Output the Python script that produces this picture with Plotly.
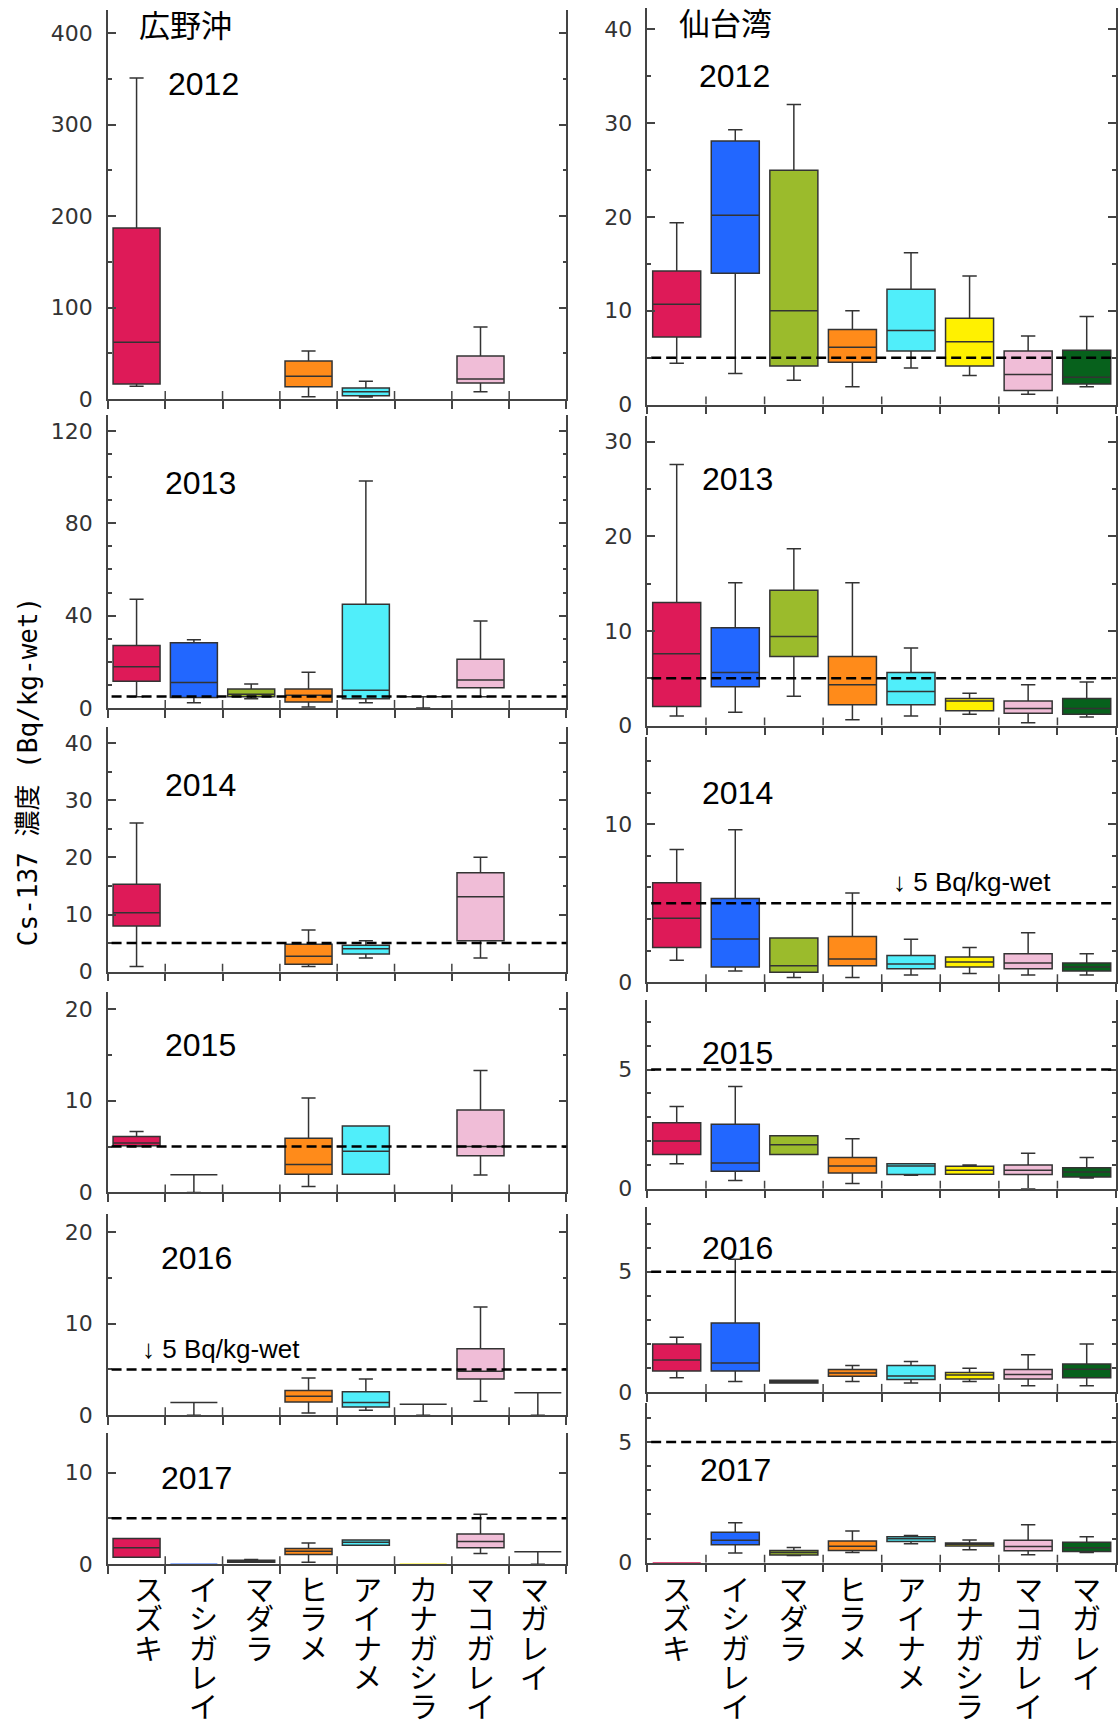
import plotly.graph_objects as go

W, H = 1118, 1733

species = ["スズキ", "イシガレイ", "マダラ", "ヒラメ", "アイナメ", "カナガシラ", "マコガレイ", "マガレイ"]
fill_colors = ["#DE1A58", "#2267FF", "#9BBB2C", "#FF8B1A", "#50EEFA", "#FFF100", "#F0BDD7", "#07611C"]
years = [2012, 2013, 2014, 2015, 2016, 2017]
limit_value = 5  # Bq/kg-wet reference line

# Box statistics per species: [lower whisker, Q1, median, Q3, upper whisker]; None = no data
# 広野沖
hirono_2012 = [[13.8, 16.4, 62, 187, 351], None, None, [2.5, 13.5, 24.8, 41.5, 52.5],
               [2.2, 3.6, 8, 12, 19.3], None, [8, 17.5, 21.9, 47, 78.7], None]
hirono_2013 = [[4.8, 11.6, 17.8, 27.1, 47.1], [2.2, 4.5, 11.0, 28.2, 29.5], [4.0, 4.8, 5.9, 8.2, 10.4],
               [0.4, 2.6, 5.5, 8.2, 15.5], [2.2, 4.0, 7.7, 44.9, 98.3], [0, 4.8, 4.8, 4.8, 4.8],
               [4.8, 8.8, 12.1, 21.1, 37.7], None]
hirono_2014 = [[0.9, 8.0, 10.3, 15.3, 26.0], None, None, [0.9, 1.3, 2.7, 4.8, 7.3],
               [2.4, 3.1, 4.0, 4.6, 5.4], None, [2.4, 5.4, 13.1, 17.3, 20.0], None]
hirono_2015 = [[5.0, 5.1, 5.4, 6.1, 6.65], [0, 1.93, 1.93, 1.93, 1.93], None, [0.65, 2.0, 3.05, 5.9, 10.3],
               [2.0, 2.0, 4.5, 7.24, 7.24], None, [1.9, 4.0, 5.0, 9.0, 13.3], None]
hirono_2016 = [None, [0, 1.4, 1.4, 1.4, 1.4], None, [0.25, 1.46, 2.07, 2.7, 4.07],
               [0.54, 0.9, 1.39, 2.57, 3.96], [0, 1.2, 1.2, 1.2, 1.2], [1.54, 3.96, 4.8, 7.25, 11.8],
               [0, 2.46, 2.46, 2.46, 2.46]]
hirono_2017 = [[0.76, 0.76, 1.78, 2.8, 2.8], [0, 0, 0, 0, 0], [0.22, 0.22, 0.33, 0.44, 0.5],
               [0.22, 1.05, 1.42, 1.7, 2.3], [2.07, 2.07, 2.4, 2.65, 2.65], [0, 0, 0, 0, 0],
               [1.16, 1.78, 2.47, 3.3, 5.45], [0, 1.35, 1.35, 1.35, 1.35]]

# 仙台湾
sendai_2012 = [[4.4, 7.2, 10.7, 14.25, 19.4], [3.3, 14.0, 20.2, 28.1, 29.3], [2.6, 4.1, 10.0, 25.0, 32.0],
               [1.9, 4.5, 6.1, 8.0, 10.0], [3.9, 5.7, 7.9, 12.3, 16.2], [3.1, 4.1, 6.7, 9.2, 13.7],
               [1.1, 1.5, 3.2, 5.7, 7.3], [1.9, 2.2, 2.9, 5.8, 9.4]]
sendai_2013 = [[1.0, 2.0, 7.6, 13.0, 27.6], [1.4, 4.1, 5.6, 10.35, 15.1], [3.1, 7.3, 9.4, 14.3, 18.7],
               [0.6, 2.2, 4.3, 7.3, 15.1], [1.0, 2.2, 3.6, 5.6, 8.2], [1.2, 1.55, 2.6, 2.85, 3.4],
               [0.3, 1.3, 1.8, 2.6, 4.3], [0.9, 1.2, 1.8, 2.85, 4.6]]
sendai_2014 = [[1.4, 2.2, 4.05, 6.3, 8.4], [0.72, 0.97, 2.74, 5.3, 9.66], [0.3, 0.63, 1.05, 2.8, 2.8],
               [0.3, 1.05, 1.48, 2.9, 5.65], [0.46, 0.86, 1.16, 1.7, 2.72], [0.55, 0.97, 1.29, 1.6, 2.2],
               [0.46, 0.86, 1.22, 1.8, 3.14], [0.46, 0.72, 0.97, 1.22, 1.8]]
sendai_2015 = [[1.05, 1.44, 2.0, 2.77, 3.45], [0.34, 0.73, 1.08, 2.71, 4.29], [1.44, 1.44, 1.84, 2.22, 2.22],
               [0.22, 0.66, 0.95, 1.31, 2.1], [0.56, 0.6, 0.95, 1.05, 1.05], [0.61, 0.61, 0.78, 0.94, 0.99],
               [0, 0.6, 0.78, 0.99, 1.49], [0.45, 0.49, 0.7, 0.88, 1.31]]
sendai_2016 = [[0.59, 0.87, 1.33, 1.99, 2.27], [0.43, 0.87, 1.2, 2.87, 5.52], [0.37, 0.37, 0.42, 0.48, 0.48],
               [0.43, 0.65, 0.79, 0.93, 1.1], [0.37, 0.52, 0.66, 1.1, 1.26], [0.43, 0.54, 0.7, 0.81, 0.98],
               [0.26, 0.54, 0.72, 0.93, 1.55], [0.26, 0.59, 0.94, 1.16, 1.99]]
sendai_2017 = [[0, 0, 0, 0, 0], [0.4, 0.74, 0.93, 1.26, 1.65], [0.3, 0.32, 0.42, 0.5, 0.63],
               [0.42, 0.5, 0.68, 0.9, 1.31], [0.78, 0.88, 0.99, 1.07, 1.13], [0.54, 0.69, 0.76, 0.82, 0.94],
               [0.33, 0.49, 0.67, 0.93, 1.57], [0.42, 0.46, 0.62, 0.85, 1.07]]

hirono = [hirono_2012, hirono_2013, hirono_2014, hirono_2015, hirono_2016, hirono_2017]
sendai = [sendai_2012, sendai_2013, sendai_2014, sendai_2015, sendai_2016, sendai_2017]

# ---- page geometry (pixels) ----
col_x = [(108, 567), (648, 1117)]
rows_px = [
    [(10, 402), (418, 713.3), (732, 979), (999, 1201.5), (1223, 1426), (1444, 1576)],
    [(8, 407.6), (419.4, 731), (743, 989.7), (1008, 1197.7), (1216, 1402.4), (1414, 1574.5)],
]
y_max = [[425.5, 127, 42.9, 21.9, 21.96, 14.3], [42.3, 32.7, 15.5, 7.9, 7.7, 6.6]]
y_ticks = [[(100, 50), (40, 10), (10, 5), (10, 5), (10, 5), (10, 5)],
           [(10, 5), (10, 5), (10, 2), (5, 1), (5, 1), (5, 1)]]
year_pos = [[(204, 84.5), (201, 487), (201, 791), (201, 1053), (197, 1268), (197, 1489)],
            [(735, 77), (738, 483), (738, 799), (738, 1061), (738, 1257), (736, 1481)]]


def px(x):
    return x / W


def py(y):
    return 1 - y / H


AXIS = "#444444"
EDGE = "#333333"
TICKFONT = dict(family="DejaVu Sans", size=22, color="#333333")

fig = go.Figure()
layout = dict(
    width=W, height=H, margin=dict(l=0, r=0, t=0, b=0),
    paper_bgcolor="white", plot_bgcolor="white", showlegend=False,
    shapes=[], annotations=[],
)

for c, data in enumerate([hirono, sendai]):
    for r in range(6):
        n = r * 2 + c + 1
        xa, ya = f"x{n}", f"y{n}"
        stats = data[r]
        for i, s in enumerate(stats):
            if s is None:
                continue
            flat = s[1] == s[3] and s[0] == s[1]
            fig.add_trace(go.Box(
                x=[i], lowerfence=[s[0]], q1=[s[1]], median=[s[2]], q3=[s[3]], upperfence=[s[4]],
                fillcolor=fill_colors[i],
                line=dict(color=fill_colors[i] if flat else EDGE, width=1.5),
                width=0.82, whiskerwidth=0.3, boxpoints=False,
                xaxis=xa, yaxis=ya, hoverinfo="skip", showlegend=False,
            ))

        top, bot = rows_px[c][r]
        major, minor = y_ticks[c][r]
        layout[f"xaxis{n}"] = dict(
            domain=[px(col_x[c][0]), px(col_x[c][1])], anchor=ya,
            range=[-0.5, 7.5], showgrid=False, zeroline=False,
            showline=True, linecolor=AXIS, linewidth=1.5,
            tickmode="array", tickvals=[k - 0.5 for k in range(9)],
            ticks="outside", ticklen=8, tickwidth=1.5, tickcolor=AXIS,
            showticklabels=False,
        )
        layout[f"yaxis{n}"] = dict(
            domain=[py(bot), py(top)], anchor=xa,
            range=[0, y_max[c][r]], showgrid=False, zeroline=False,
            showline=True, linecolor=AXIS, linewidth=1.5, mirror="ticks",
            tickmode="linear", tick0=0, dtick=major,
            ticks="inside", ticklen=8, tickwidth=1.5, tickcolor=AXIS,
            minor=dict(dtick=minor, tick0=0, ticks="inside", ticklen=4, tickwidth=1.5, tickcolor=AXIS),
            tickfont=TICKFONT, ticklabelstandoff=9,
        )
        # upper half of the crossing category ticks
        for k in range(1, 8):
            layout["shapes"].append(dict(
                type="line", xref=xa, yref=ya, x0=k - 0.5, x1=k - 0.5,
                ysizemode="pixel", yanchor=0, y0=0, y1=8,
                line=dict(color=AXIS, width=1.5), layer="above",
            ))
        # 5 Bq/kg-wet reference line
        if not (c == 0 and r == 0):
            layout["shapes"].append(dict(
                type="line", xref=f"{xa} domain", yref=ya, x0=0.008, x1=1.0,
                y0=limit_value, y1=limit_value,
                line=dict(color="black", width=2.5, dash="10px,5px"), layer="above",
            ))
        yx, yy = year_pos[c][r]
        layout["annotations"].append(dict(
            text=str(years[r]), xref="paper", yref="paper", x=px(yx), y=py(yy),
            xanchor="center", yanchor="middle", showarrow=False,
            font=dict(family="Liberation Sans", size=32, color="black"),
        ))

# area titles
for text, (x, y) in [("広野沖", (186, 24)), ("仙台湾", (726, 22))]:
    layout["annotations"].append(dict(
        text=text, xref="paper", yref="paper", x=px(x), y=py(y),
        xanchor="center", yanchor="middle", showarrow=False,
        font=dict(family="Noto Sans CJK JP", size=31, color="black"),
    ))

# limit labels
for x, y in [(973, 889), (221, 1359)]:
    layout["annotations"].append(dict(
        text="↓ 5 Bq/kg-wet", xref="paper", yref="paper", x=px(x), y=py(y),
        xanchor="center", yanchor="middle", showarrow=False,
        font=dict(family="Liberation Sans", size=26, color="black"),
    ))

# y-axis title
layout["annotations"].append(dict(
    text="Cs-137 濃度 (Bq/kg-wet)", xref="paper", yref="paper", x=px(28), y=py(777),
    xanchor="center", yanchor="middle", showarrow=False, textangle=-90,
    font=dict(family="DejaVu Sans Mono, Noto Sans CJK JP", size=26, color="black"),
))

# species names written vertically, one character below another, under the bottom panels
label_shift = [[12, 10, 8, 5, 2, 0, 0, -3], [0, 0, 0, 0, 0, 0, 0, 0]]
for c in range(2):
    n = 10 + c + 1
    for i, name in enumerate(species):
        for k, ch in enumerate(name):
            layout["annotations"].append(dict(
                text=ch, xref=f"x{n}", yref="paper", x=i, y=py(1600 + 29.5 * k),
                xshift=label_shift[c][i], xanchor="center", yanchor="middle", showarrow=False,
                font=dict(family="Noto Sans CJK JP", size=29, color="black"),
            ))

fig.update_layout(**layout)
fig.write_html("out.html")
